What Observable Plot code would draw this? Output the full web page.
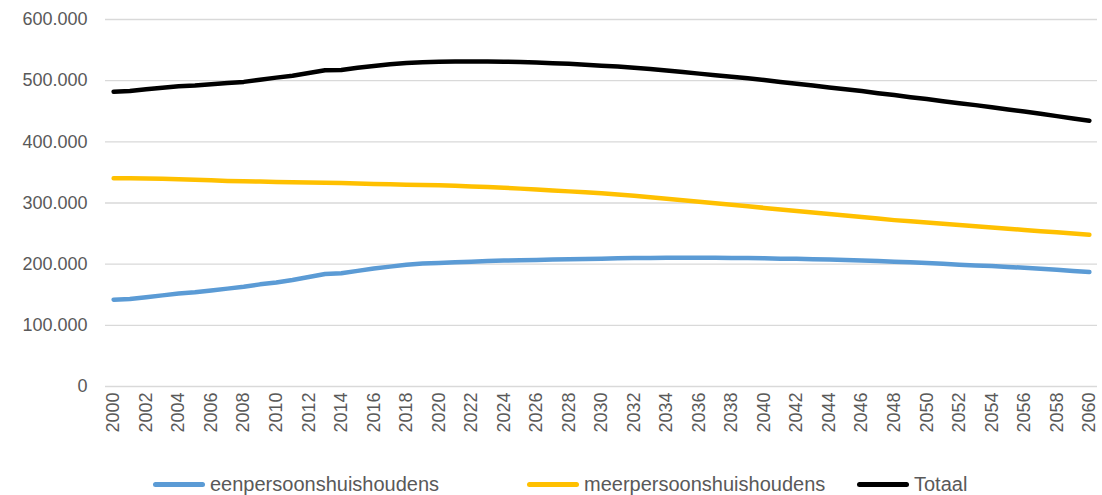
<!DOCTYPE html>
<html>
<head>
<meta charset="utf-8">
<script src="https://cdn.jsdelivr.net/npm/d3@7"></script>
<script src="https://cdn.jsdelivr.net/npm/@observablehq/plot@0.6"></script>
<style>
  html, body { margin: 0; padding: 0; background: #fff; }
  #wrap { position: relative; width: 1102px; height: 495px; font-family: "Liberation Sans", Arial, sans-serif; }
  #legend { position: absolute; left: 0; top: 471px; width: 1102px; height: 26px; }
  .item { position: absolute; top: 0; height: 26px; display: flex; align-items: center; font-size: 20px; color: #595959; }
  .sw { width: 52px; height: 5px; border-radius: 3px; margin-right: 5px; }
</style>
</head>
<body>
<div id="wrap"><div id="chart"></div><div id="legend"></div></div>
<script>
const years = d3.range(2000, 2061);
const seriesNames = ["eenpersoonshuishoudens", "meerpersoonshuishoudens", "Totaal"];
const seriesColors = ["#5B9BD5", "#FFC000", "#000000"];

const eenpersoons = [
  142000, 143000, 146000, 149000, 152000, 154000, 157000, 160000, 163000, 167000,
  170000, 174000, 179000, 184000, 185000, 189000, 193000, 196000, 199000, 201000,
  202000, 203000, 204000, 205000, 206000, 206500, 207000, 207500, 208000, 208500,
  209000, 209500, 210000, 210000, 210500, 210500, 210500, 210500, 210000, 210000,
  209500, 209000, 209000, 208000, 207500, 207000, 206000, 205000, 204000, 203000,
  202000, 200500, 199000, 198000, 197000, 195500, 194000, 192500, 191000, 189000,
  187000
];
const meerpersoons = [
  340500, 340500, 340000, 339500, 339000, 338000, 337000, 336000, 335500, 335000,
  334500, 334000, 333500, 333000, 332500, 332000, 331000, 330500, 330000, 329500,
  329000, 328000, 327000, 326000, 325000, 323500, 322000, 320500, 319000, 317500,
  316000, 314000, 312000, 309500, 307000, 304500, 302000, 299500, 297000, 294500,
  292000, 289500, 287000, 284500, 282000, 279500, 277000, 274500, 272000, 270000,
  268000, 266000, 264000, 262000, 260000, 258000, 256000, 254000, 252000, 250000,
  248000
];
const totaal = [
  482000, 483000, 486000, 488500, 491000, 492000, 494000, 496000, 498000, 501500,
  505000, 508000, 512500, 517000, 517500, 521000, 524000, 527000, 529000, 530000,
  531000, 531500, 531500, 531500, 531000, 530500, 529500, 528500, 527500, 526000,
  524500, 523000, 521000, 519000, 516500, 514000, 511500, 509000, 506500, 504000,
  501000, 498000, 495000, 492000, 489000, 486000, 483000, 479500, 476500, 473000,
  470000, 466500, 463000, 460000, 456500, 453000, 449500, 446000, 442000, 438000,
  434500
];
const xTicks = d3.range(2000, 2061, 2);
const yTicks = [0, 100000, 200000, 300000, 400000, 500000, 600000];

const seriesValues = [eenpersoons, meerpersoons, totaal];
const rows = [];
seriesNames.forEach((name, i) => {
  years.forEach((yr, j) => rows.push({ year: yr, value: seriesValues[i][j], series: name }));
});

const nl = d3.formatLocale({ decimal: ",", thousands: ".", grouping: [3], currency: ["", ""] });
const fmt = nl.format(",");

const chart = Plot.plot({
  width: 1102,
  height: 455,
  marginTop: 19,
  marginBottom: 69,
  marginLeft: 105,
  marginRight: 5,
  style: { fontFamily: '"Liberation Sans", Arial, sans-serif', fontSize: "18px", color: "#595959", background: "#fff" },
  x: { type: "linear", domain: [1999.5, 2060.5] },
  y: { domain: [0, 600000] },
  color: { domain: seriesNames, range: seriesColors },
  marks: [
    Plot.ruleY(yTicks, { stroke: "#D9D9D9", strokeWidth: 1.3 }),
    Plot.axisY({ ticks: yTicks, tickFormat: fmt, tickSize: 0, tickPadding: 18, label: null, fill: "#595959", fontSize: 18 }),
    Plot.axisX({ ticks: xTicks, tickFormat: d => String(d), tickSize: 0, tickPadding: 6, tickRotate: -90, label: null, fill: "#595959", fontSize: 18 }),
    Plot.line(rows, { x: "year", y: "value", z: "series", stroke: "series", strokeWidth: 4.5, strokeLinecap: "round", strokeLinejoin: "round" })
  ]
});
document.getElementById("chart").appendChild(chart);

const legendLeft = [153, 527, 857];
const legend = document.getElementById("legend");
seriesNames.forEach((name, i) => {
  const it = document.createElement("div");
  it.className = "item";
  it.style.left = legendLeft[i] + "px";
  const sw = document.createElement("div");
  sw.className = "sw";
  sw.style.background = seriesColors[i];
  const tx = document.createElement("span");
  tx.textContent = name;
  it.appendChild(sw);
  it.appendChild(tx);
  legend.appendChild(it);
});
</script>
</body>
</html>
